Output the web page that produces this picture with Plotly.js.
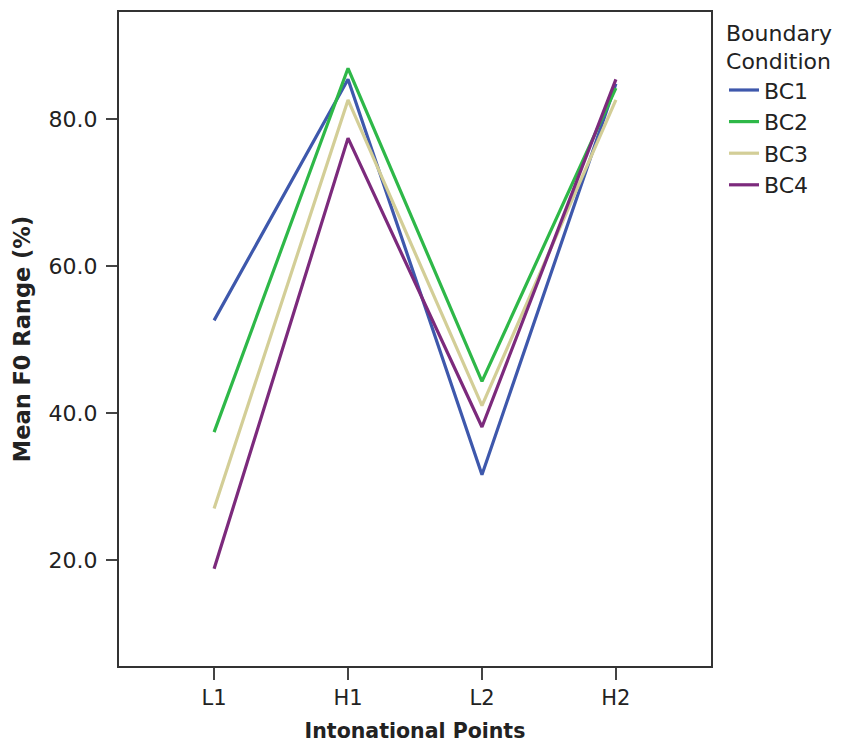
<!DOCTYPE html>
<html>
<head>
<meta charset="utf-8">
<script src="https://cdn.plot.ly/plotly-3.0.1.min.js"></script>
<style>html,body{margin:0;padding:0;background:#fff;}#chart{width:846px;height:747px;}</style>
</head>
<body>
<div id="chart"></div>
<script>
const categories = ["L1", "H1", "L2", "H2"];
const seriesNames = ["BC1", "BC2", "BC3", "BC4"];
const bc1 = [52.6, 85.4, 31.6, 84.8];
const bc2 = [37.4, 86.9, 44.3, 84.2];
const bc3 = [27.0, 82.6, 41.0, 82.6];
const bc4 = [18.8, 77.4, 38.1, 85.4];
const yTicks = [20, 40, 60, 80];
const colors = ["#3e58ac", "#2eb848", "#d3ce97", "#7c2a7c"];

const FONT = "DejaVu Sans, Lucida Grande, sans-serif";
const allSeries = [bc1, bc2, bc3, bc4];
const traces = allSeries.map((vals, i) => ({
  type: "scatter",
  mode: "lines",
  x: categories.map((c, j) => j),
  y: vals,
  name: seriesNames[i],
  line: {color: colors[i], width: 3.2}
}));

const layout = {
  width: 846, height: 747,
  margin: {l: 119, r: 135, t: 12, b: 81},
  paper_bgcolor: "#fff", plot_bgcolor: "#fff",
  font: {family: FONT, color: "#222", size: 20},
  showlegend: true,
  legend: {
    x: 1.022, xanchor: "left", y: 1.0, yanchor: "top",
    title: {text: "Boundary<br>Condition", font: {size: 22, color: "#222", family: FONT}, side: "top"},
    font: {size: 22, color: "#222", family: FONT},
    itemwidth: 30, tracegroupgap: 0,
    bgcolor: "rgba(0,0,0,0)"
  },
  xaxis: {
    range: [-0.71, 3.71],
    tickmode: "array",
    tickvals: categories.map((c, j) => j),
    ticktext: categories,
    ticks: "outside", ticklen: 12, tickwidth: 2, tickcolor: "#444",
    showline: true, linecolor: "#333", linewidth: 2, mirror: true,
    showgrid: false, zeroline: false,
    tickfont: {size: 21, family: FONT, color: "#222"},
    title: {text: "Intonational Points", font: {size: 20.5, family: FONT, color: "#222", weight: "bold"}, standoff: 14}
  },
  yaxis: {
    range: [5.58, 94.56],
    tickmode: "array",
    tickvals: yTicks,
    ticktext: yTicks.map(v => v.toFixed(1)),
    ticks: "outside", ticklen: 11, tickwidth: 2, tickcolor: "#444",
    showline: true, linecolor: "#333", linewidth: 2, mirror: true,
    showgrid: false, zeroline: false,
    ticklabelstandoff: 4,
    tickfont: {size: 22, family: FONT, color: "#222"},
    title: {text: "Mean F0 Range (%)", font: {size: 22.5, family: FONT, color: "#222", weight: "bold"}, standoff: 12}
  }
};

Plotly.newPlot("chart", traces, layout, {displayModeBar: false, staticPlot: true});
</script>
</body>
</html>
